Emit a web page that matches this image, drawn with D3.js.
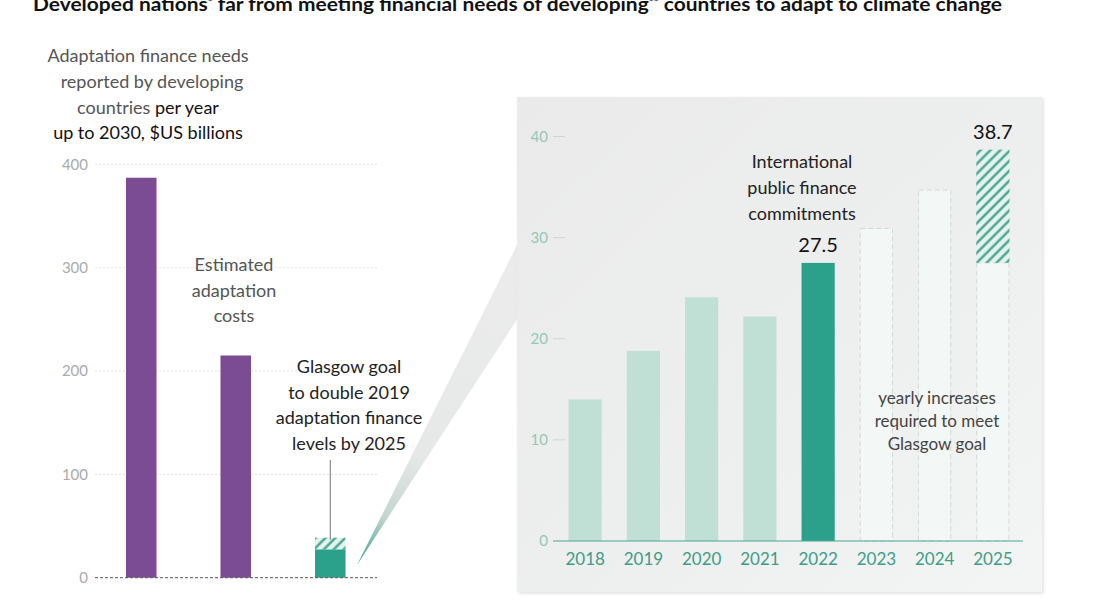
<!DOCTYPE html>
<html>
<head>
<meta charset="utf-8">
<script src="https://cdn.jsdelivr.net/npm/d3@7"></script>
<style>
  html, body { margin: 0; padding: 0; background: #ffffff; }
  svg { display: block; font-family: Lato, "Noto Sans", sans-serif; }
</style>
</head>
<body>
<svg id="chart" width="1095" height="600"></svg>
<script>
// ---------- DATA ----------
const leftCategories = ["Adaptation finance needs", "Estimated adaptation costs", "Glasgow goal"];
const leftValues = [387, 215, 27.5];
const leftGoalValue = 38.7;
const leftTicks = [0, 100, 200, 300, 400];

const years = ["2018", "2019", "2020", "2021", "2022", "2023", "2024", "2025"];
const commitments = [14.0, 18.8, 24.1, 22.2, 27.5, null, null, null];
const requiredPath = [null, null, null, null, null, 30.9, 34.7, 27.5];
const goalYear = "2025";
const goalValue = 38.7;
const rightTicks = [0, 10, 20, 30, 40];
const highlightYear = "2022";

// ---------- SETUP ----------
const svg = d3.select("#chart");
const defs = svg.append("defs");

const purple = "#7b4b93";
const teal = "#2ba08b";
const lightTeal = "#c0e0d6";

// hatch pattern
defs.append("pattern")
  .attr("id", "hatch").attr("patternUnits", "userSpaceOnUse")
  .attr("width", 7).attr("height", 7).attr("patternTransform", "rotate(45)")
  .call(p => {
    p.append("rect").attr("width", 7).attr("height", 7).attr("fill", "#e6f2ee");
    p.append("line").attr("x1", 1.5).attr("y1", 0).attr("x2", 1.5).attr("y2", 7)
      .attr("stroke", "#3a9e86").attr("stroke-width", 2.2);
  });

// panel gradient
const pg = defs.append("linearGradient").attr("id", "panelGrad")
  .attr("x1", "0").attr("y1", "0").attr("x2", "1").attr("y2", "1");
pg.append("stop").attr("offset", "0").attr("stop-color", "#eaeaea");
pg.append("stop").attr("offset", "0.6").attr("stop-color", "#eeefef");
pg.append("stop").attr("offset", "1").attr("stop-color", "#f3f5f5");

// wedge gradient
const wg = defs.append("linearGradient").attr("id", "wedgeGrad")
  .attr("gradientUnits", "userSpaceOnUse")
  .attr("x1", 357).attr("y1", 565).attr("x2", 500).attr("y2", 290);
wg.append("stop").attr("offset", "0").attr("stop-color", "#3c9f8a");
wg.append("stop").attr("offset", "0.18").attr("stop-color", "#c4d6d1");
wg.append("stop").attr("offset", "0.4").attr("stop-color", "#e6e8e8");
wg.append("stop").attr("offset", "1").attr("stop-color", "#ebebeb");

// shadow
const f = defs.append("filter").attr("id", "shadow")
  .attr("x", "-5%").attr("y", "-5%").attr("width", "112%").attr("height", "112%");
f.append("feDropShadow").attr("dx", 1.5).attr("dy", 1.5).attr("stdDeviation", 1.5)
  .attr("flood-color", "#000").attr("flood-opacity", 0.12);

// ---------- TITLE ----------
const title = svg.append("text")
  .attr("x", 33).attr("y", 11)
  .attr("font-size", 18).attr("font-weight", 700).attr("fill", "#111")
  .attr("textLength", 969).attr("lengthAdjust", "spacingAndGlyphs");
title.append("tspan").text("Developed nations");
title.append("tspan").attr("font-size", 10).attr("dy", -6).text("*");
title.append("tspan").attr("dy", 6).text(" far from meeting financial needs of developing");
title.append("tspan").attr("font-size", 10).attr("dy", -6).text("**");
title.append("tspan").attr("dy", 6).text(" countries to adapt to climate change");

// ---------- LEFT CHART ----------
const xL = d3.scaleBand().domain(leftCategories).range([94, 377.5])
  .paddingInner(0.677).paddingOuter(0.3385);
const yL = d3.scaleLinear().domain([0, 400]).range([577.7, 164.3]);

const gL = svg.append("g");
// gridlines
gL.selectAll("line.grid").data(leftTicks.filter(d => d > 0)).join("line")
  .attr("x1", 95).attr("x2", 377)
  .attr("y1", d => yL(d)).attr("y2", d => yL(d))
  .attr("stroke", "#e2e2e2").attr("stroke-width", 1).attr("stroke-dasharray", "2,2");

// axis labels
const axL = d3.axisLeft(yL).tickValues(leftTicks).tickSize(0).tickPadding(0);
gL.append("g").attr("transform", "translate(88,0)").call(axL)
  .call(g => g.select(".domain").remove())
  .call(g => g.selectAll("text").attr("font-size", 15).attr("fill", "#aaaaaa")
    .attr("font-family", "Lato, sans-serif"));

// bars
gL.selectAll("rect.bar").data(leftCategories).join("rect")
  .attr("x", d => xL(d)).attr("width", xL.bandwidth())
  .attr("y", (d, i) => yL(leftValues[i]))
  .attr("height", (d, i) => yL(0) - yL(leftValues[i]))
  .attr("fill", (d, i) => i === 2 ? teal : purple);

// hatch on glasgow
gL.append("rect")
  .attr("x", xL(leftCategories[2])).attr("width", xL.bandwidth())
  .attr("y", yL(leftGoalValue)).attr("height", yL(leftValues[2]) - yL(leftGoalValue))
  .attr("fill", "url(#hatch)");

// zero line
gL.append("line").attr("x1", 95).attr("x2", 377).attr("y1", yL(0)).attr("y2", yL(0))
  .attr("stroke", "#555").attr("stroke-width", 1).attr("stroke-dasharray", "3,2");

// leader
const gcx = xL(leftCategories[2]) + xL.bandwidth() / 2;
gL.append("line").attr("x1", gcx).attr("x2", gcx).attr("y1", 460).attr("y2", yL(leftGoalValue) + 2)
  .attr("stroke", "#777").attr("stroke-width", 1);

// left header text
const hdr = svg.append("text").attr("text-anchor", "middle").attr("font-size", 18).attr("fill", "#555");
hdr.append("tspan").attr("x", 148).attr("y", 62).text("Adaptation finance needs");
hdr.append("tspan").attr("x", 152).attr("y", 88).text("reported by developing");
const l3 = hdr.append("tspan").attr("x", 148).attr("y", 114);
l3.append("tspan").text("countries ");
l3.append("tspan").attr("fill", "#111").text("per year");
hdr.append("tspan").attr("x", 148).attr("y", 139).attr("fill", "#111").text("up to 2030, $US billions");

const est = svg.append("text").attr("text-anchor", "middle").attr("font-size", 18).attr("fill", "#555");
["Estimated", "adaptation", "costs"].forEach((t, i) =>
  est.append("tspan").attr("x", 234).attr("y", 271 + i * 25.5).text(t));

const gl = svg.append("text").attr("text-anchor", "middle").attr("font-size", 18).attr("fill", "#222");
["Glasgow goal", "to double 2019", "adaptation finance", "levels by 2025"].forEach((t, i) =>
  gl.append("tspan").attr("x", 349).attr("y", 373 + i * 25.5).text(t));

// ---------- WEDGE ----------
svg.append("path")
  .attr("d", d3.line()([[357, 565], [518, 243], [518, 318]]) + "Z")
  .attr("fill", "url(#wedgeGrad)");

// ---------- RIGHT PANEL ----------
svg.append("rect").attr("x", 517).attr("y", 97).attr("width", 525).attr("height", 495)
  .attr("fill", "url(#panelGrad)").attr("filter", "url(#shadow)");

const xR = d3.scaleBand().domain(years).range([556, 1022])
  .paddingInner(0.43).paddingOuter(0.215);
const yR = d3.scaleLinear().domain([0, 40]).range([541, 136.5]);

const gR = svg.append("g");

// y axis
const axR = d3.axisLeft(yR).tickValues(rightTicks).tickSize(0).tickPadding(0);
gR.append("g").attr("transform", "translate(548,0)").call(axR)
  .call(g => g.select(".domain").remove())
  .call(g => g.selectAll("text").attr("font-size", 15).attr("fill", "#93c8b6")
    .attr("font-family", "Lato, sans-serif"));
gR.selectAll("line.tk").data(rightTicks.filter(d => d > 0)).join("line")
  .attr("x1", 553).attr("x2", 565).attr("y1", d => yR(d)).attr("y2", d => yR(d))
  .attr("stroke", "#cfd6d4").attr("stroke-width", 1);

// required (future) bars
const futIdx = years.map((y, i) => i).filter(i => requiredPath[i] != null);
gR.selectAll("rect.req").data(futIdx).join("rect")
  .attr("x", i => xR(years[i]) + 0.5).attr("width", xR.bandwidth() - 1)
  .attr("y", i => yR(requiredPath[i]))
  .attr("height", i => yR(0) - yR(requiredPath[i]))
  .attr("fill", "#f3f7f6").attr("stroke", "#d4d8d7").attr("stroke-width", 1)
  .attr("stroke-dasharray", "5,3");

// goal hatch
gR.append("rect")
  .attr("x", xR(goalYear)).attr("width", xR.bandwidth())
  .attr("y", yR(goalValue)).attr("height", yR(requiredPath[7]) - yR(goalValue))
  .attr("fill", "url(#hatch)");

// commitments bars
const pastIdx = years.map((y, i) => i).filter(i => commitments[i] != null);
gR.selectAll("rect.com").data(pastIdx).join("rect")
  .attr("x", i => xR(years[i])).attr("width", xR.bandwidth())
  .attr("y", i => yR(commitments[i]))
  .attr("height", i => yR(0) - yR(commitments[i]))
  .attr("fill", i => years[i] === highlightYear ? teal : lightTeal);

// baseline
gR.append("line").attr("x1", 553).attr("x2", 1023).attr("y1", yR(0)).attr("y2", yR(0))
  .attr("stroke", "#4aa892").attr("stroke-width", 1.2);

// x axis labels
const axX = d3.axisBottom(xR).tickSize(0).tickPadding(0);
gR.append("g").attr("transform", "translate(0,565)").call(axX)
  .call(g => g.select(".domain").remove())
  .call(g => g.selectAll("text").attr("dy", 0).attr("font-size", 17).attr("fill", "#3f9c87")
    .attr("font-family", "Lato, sans-serif"));

// value labels
const hx = xR(highlightYear) + xR.bandwidth() / 2;
svg.append("text").attr("x", hx).attr("y", yR(commitments[4]) - 11)
  .attr("text-anchor", "middle").attr("font-size", 20).attr("fill", "#111")
  .text(commitments[4].toFixed(1));
svg.append("text").attr("x", xR(goalYear) + xR.bandwidth() / 2).attr("y", yR(goalValue) - 11)
  .attr("text-anchor", "middle").attr("font-size", 20).attr("fill", "#111")
  .text(goalValue.toFixed(1));

const ipf = svg.append("text").attr("text-anchor", "middle").attr("font-size", 18).attr("fill", "#222");
["International", "public finance", "commitments"].forEach((t, i) =>
  ipf.append("tspan").attr("x", 802).attr("y", 168 + i * 26).text(t));

const yi = svg.append("text").attr("text-anchor", "middle").attr("font-size", 17).attr("fill", "#444");
["yearly increases", "required to meet", "Glasgow goal"].forEach((t, i) =>
  yi.append("tspan").attr("x", 937).attr("y", 404 + i * 23).text(t));
</script>
</body>
</html>
